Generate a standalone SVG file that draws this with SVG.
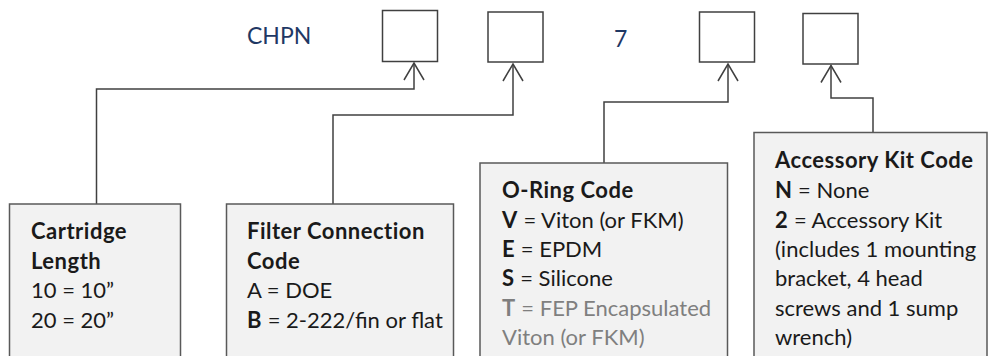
<svg xmlns="http://www.w3.org/2000/svg" width="988" height="356" viewBox="0 0 988 356">
<style>
.sq{fill:#ffffff;stroke:#404040;stroke-width:1.5}
.box{fill:#f2f2f2;stroke:#595959;stroke-width:1.5}
.con{fill:none;stroke:#404040;stroke-width:1.5}
.code{font-family:Lato,"Open Sans",sans-serif;font-size:23px;fill:#1f3864}
.t{font-family:Lato,"Open Sans",sans-serif;font-size:22px;font-weight:400;fill:#1a1a1a}
.b{font-weight:700;letter-spacing:0.5px}
.g{fill:#7f7f7f}
</style>
<defs>
<marker id="arr" viewBox="-19 -12 21 24" markerWidth="21" markerHeight="24" refX="0" refY="0" orient="auto" markerUnits="userSpaceOnUse">
<path d="M -17 -10 L 0 0 L -17 10" fill="none" stroke="#404040" stroke-width="1.5"/>
</marker>
</defs>
<g id="labels">
<text class="code" x="247" y="44">CHPN</text>
<text class="code" x="614" y="47">7</text>
</g>
<g id="slot1"><rect class="sq" x="382.5" y="10.5" width="55" height="51"/></g>
<g id="slot2"><rect class="sq" x="488" y="12" width="55" height="50"/></g>
<g id="slot3"><rect class="sq" x="699.5" y="12" width="55" height="50"/></g>
<g id="slot4"><rect class="sq" x="803" y="13.5" width="55" height="50.5"/></g>
<g id="connectors">
<path class="con" d="M 96.5 204 V 89 H 414 V 63" marker-end="url(#arr)"/>
<path class="con" d="M 333 204 V 115 H 513 V 64" marker-end="url(#arr)"/>
<path class="con" d="M 604 163 V 102 H 728 V 64" marker-end="url(#arr)"/>
<path class="con" d="M 873 132.5 V 98 H 831 V 65.5" marker-end="url(#arr)"/>
</g>
<g id="cartridge">
<rect class="box" x="9.5" y="204" width="171" height="160"/>
<text class="t" x="31" y="239"><tspan class="b">Cartridge</tspan></text>
<text class="t" x="31" y="268.5"><tspan class="b">Length</tspan></text>
<text class="t" x="31" y="298">10 = 10”</text>
<text class="t" x="31" y="327.5">20 = 20”</text>
</g>
<g id="filter">
<rect class="box" x="226.5" y="204" width="227" height="160"/>
<text class="t" x="247" y="239"><tspan class="b">Filter Connection</tspan></text>
<text class="t" x="247" y="268.5"><tspan class="b">Code</tspan></text>
<text class="t" x="247" y="298">A = DOE</text>
<text class="t" x="247" y="327.5"><tspan class="b">B</tspan> = 2-222/fin or flat</text>
</g>
<g id="oring">
<rect class="box" x="480" y="163" width="247.5" height="200"/>
<text class="t" x="502" y="198"><tspan class="b">O-Ring Code</tspan></text>
<text class="t" x="502" y="227.5"><tspan class="b">V</tspan> = Viton (or FKM)</text>
<text class="t" x="502" y="257"><tspan class="b">E</tspan> = EPDM</text>
<text class="t" x="502" y="286"><tspan class="b">S</tspan> = Silicone</text>
<text class="t g" x="502" y="315.5"><tspan class="b">T</tspan> = FEP Encapsulated</text>
<text class="t g" x="502" y="345">Viton (or FKM)</text>
</g>
<g id="accessory">
<rect class="box" x="754" y="132.5" width="233" height="230"/>
<text class="t" x="775" y="168"><tspan class="b">Accessory Kit Code</tspan></text>
<text class="t" x="775" y="198"><tspan class="b">N</tspan> = None</text>
<text class="t" x="775" y="227.5"><tspan class="b">2</tspan> = Accessory Kit</text>
<text class="t" x="775" y="257">(includes 1 mounting</text>
<text class="t" x="775" y="286">bracket, 4 head</text>
<text class="t" x="775" y="315.5">screws and 1 sump</text>
<text class="t" x="775" y="345">wrench)</text>
</g>
</svg>
